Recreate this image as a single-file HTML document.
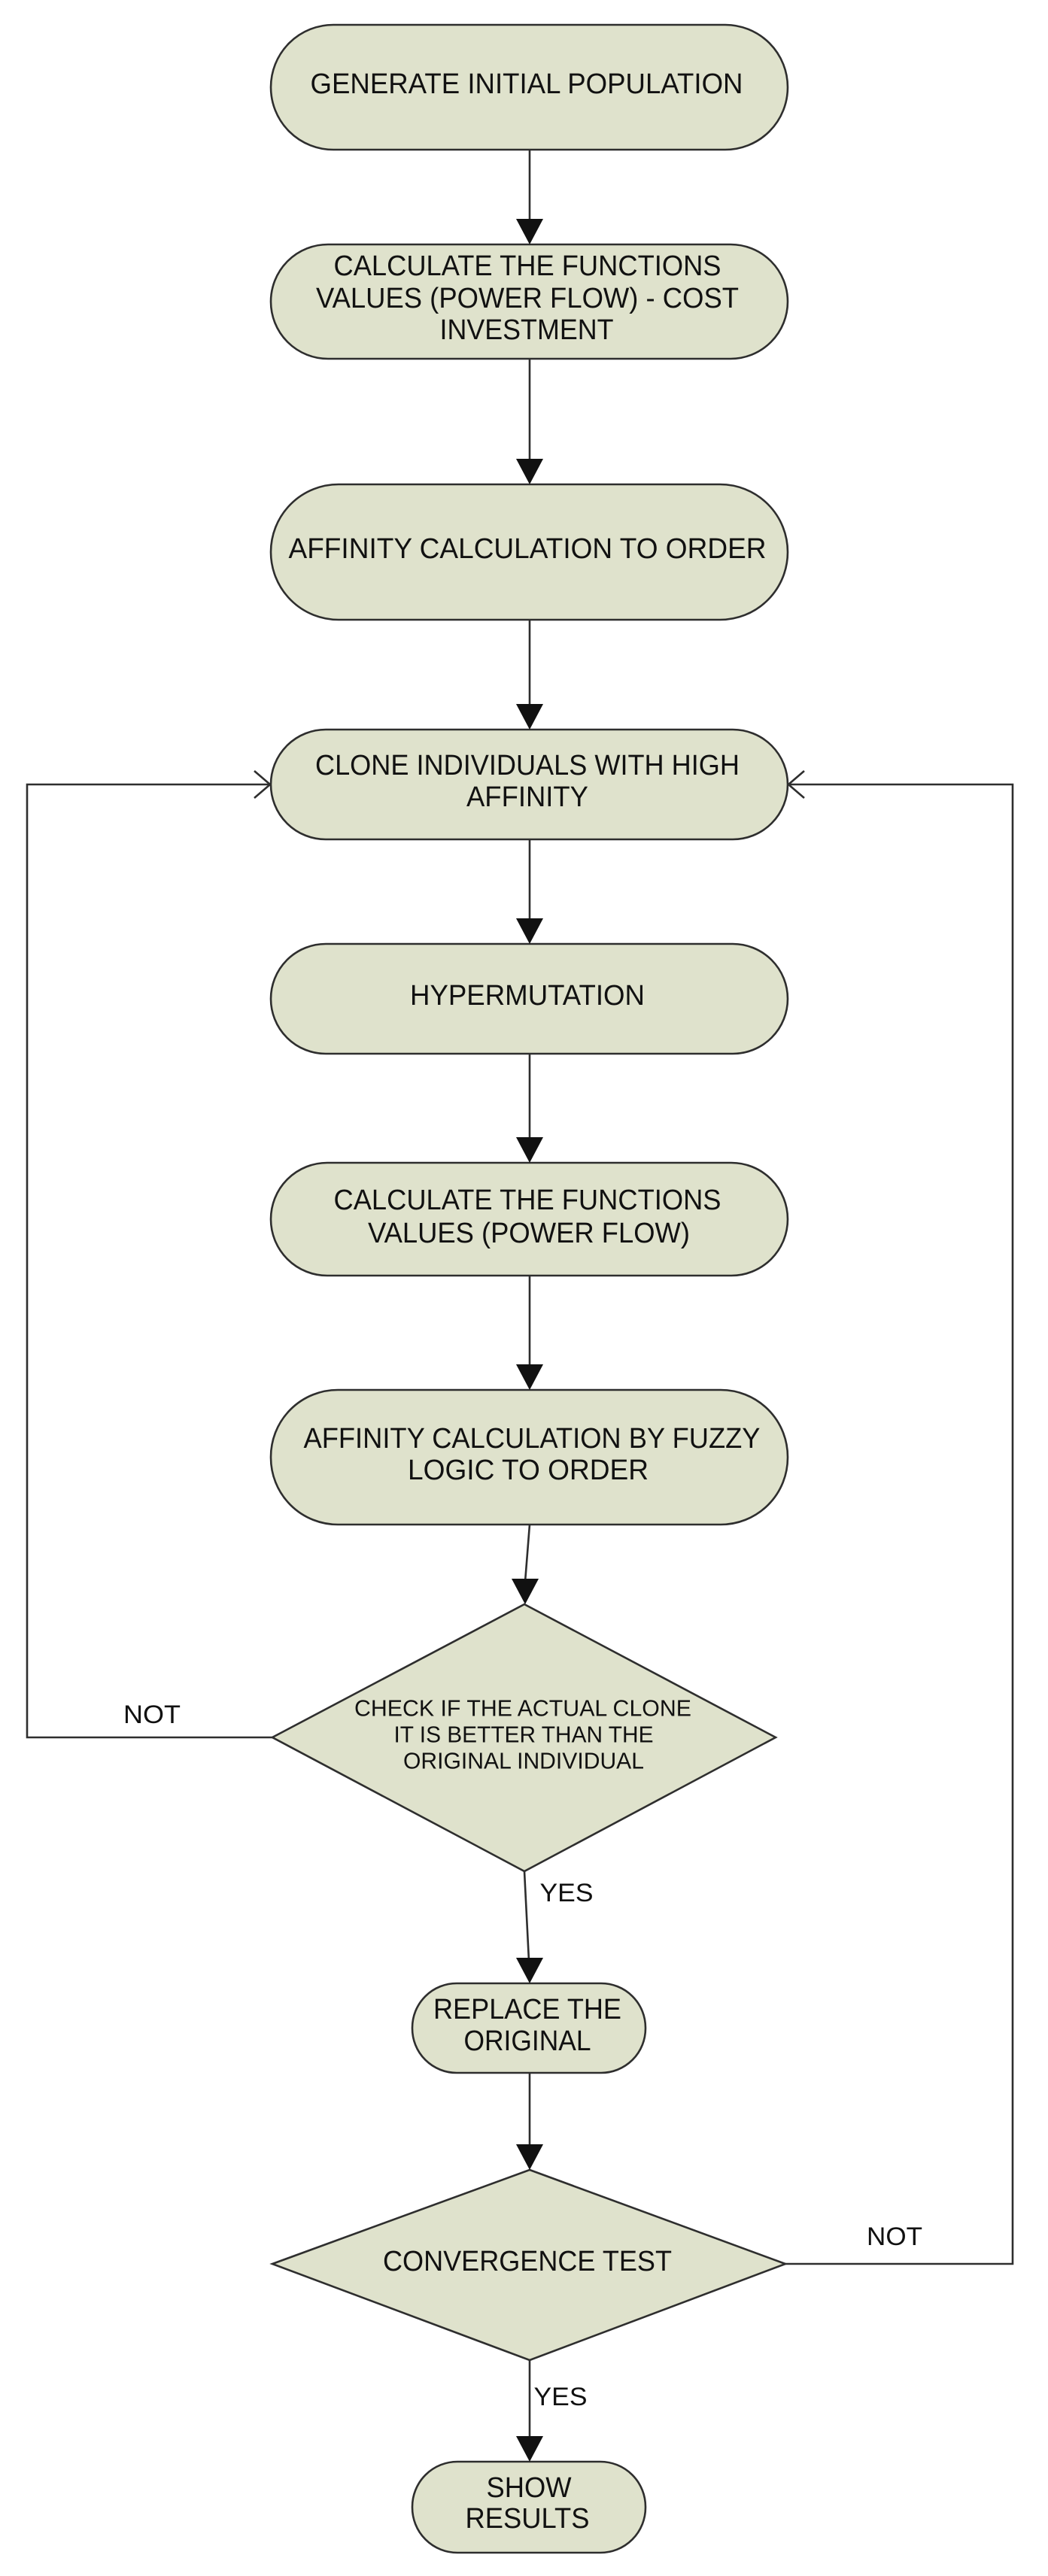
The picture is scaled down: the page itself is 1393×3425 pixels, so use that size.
<!DOCTYPE html>
<html><head><meta charset="utf-8"><style>
html,body{margin:0;padding:0;background:#fff;}
svg{display:block;}
text{font-family:"Liberation Sans",Arial,sans-serif;fill:#111;dominant-baseline:central;text-anchor:middle;}
.s{fill:#dfe2cc;stroke:#2e2e2e;stroke-width:2.6;}
.l{stroke:#2e2e2e;stroke-width:2.6;fill:none;}
</style></head><body>
<svg width="1393" height="3425" viewBox="0 0 1393 3425" xmlns="http://www.w3.org/2000/svg">
<!-- boxes -->
<rect class="s" x="360" y="33" width="687" height="166" rx="83"/>
<rect class="s" x="360" y="325" width="687" height="152" rx="76"/>
<rect class="s" x="360" y="644" width="687" height="180" rx="90"/>
<rect class="s" x="360" y="970" width="687" height="146" rx="73"/>
<rect class="s" x="360" y="1255" width="687" height="146" rx="73"/>
<rect class="s" x="360" y="1546" width="687" height="150" rx="75"/>
<rect class="s" x="360" y="1848" width="687" height="179" rx="89"/>
<polygon class="s" points="697,2133 1031,2310 697,2488 362,2310"/>
<rect class="s" x="548" y="2637" width="310" height="119" rx="59"/>
<polygon class="s" points="704,2885 1044,3010 704,3138 362,3010"/>
<rect class="s" x="548" y="3273" width="310" height="121" rx="60"/>

<g class="l">
<line x1="704" y1="199" x2="704" y2="295"/>
<line x1="704" y1="477" x2="704" y2="614"/>
<line x1="704" y1="824" x2="704" y2="940"/>
<line x1="704" y1="1116" x2="704" y2="1225"/>
<line x1="704" y1="1401" x2="704" y2="1516"/>
<line x1="704" y1="1696" x2="704" y2="1818"/>
<line x1="704" y1="2027" x2="698" y2="2103"/>
<line x1="697" y1="2488" x2="703" y2="2607"/>
<line x1="704" y1="2756" x2="704" y2="2855"/>
<line x1="704" y1="3138" x2="704" y2="3243"/>
<polyline points="362,2310 36,2310 36,1043 358,1043"/>
<polyline points="1044,3010 1346,3010 1346,1043 1049,1043"/>
<polyline points="338,1025 359,1043 338,1061"/>
<polyline points="1069,1025 1048,1043 1069,1061"/>
</g>
<g fill="#111">
<polygon points="686,291 722,291 704,325"/>
<polygon points="686,610 722,610 704,644"/>
<polygon points="686,936 722,936 704,970"/>
<polygon points="686,1221 722,1221 704,1255"/>
<polygon points="686,1512 722,1512 704,1546"/>
<polygon points="686,1814 722,1814 704,1848"/>
<polygon points="680,2099 716,2099 698,2133"/>
<polygon points="686,2603 722,2603 704,2637"/>
<polygon points="686,2851 722,2851 704,2885"/>
<polygon points="686,3239 722,3239 704,3273"/>
</g>

<g font-size="38">
<text x="700" y="112" textLength="575" lengthAdjust="spacingAndGlyphs">GENERATE INITIAL POPULATION</text>
<text x="701" y="354" textLength="515" lengthAdjust="spacingAndGlyphs">CALCULATE THE FUNCTIONS</text>
<text x="701" y="397" textLength="562" lengthAdjust="spacingAndGlyphs">VALUES (POWER FLOW) - COST</text>
<text x="700" y="439" textLength="231" lengthAdjust="spacingAndGlyphs">INVESTMENT</text>
<text x="701" y="730" textLength="635" lengthAdjust="spacingAndGlyphs">AFFINITY CALCULATION  TO ORDER</text>
<text x="701" y="1018" textLength="564" lengthAdjust="spacingAndGlyphs">CLONE INDIVIDUALS WITH HIGH</text>
<text x="701" y="1060" textLength="162" lengthAdjust="spacingAndGlyphs">AFFINITY</text>
<text x="701" y="1324" textLength="312" lengthAdjust="spacingAndGlyphs">HYPERMUTATION</text>
<text x="701" y="1596" textLength="515" lengthAdjust="spacingAndGlyphs">CALCULATE THE FUNCTIONS</text>
<text x="703" y="1640" textLength="428" lengthAdjust="spacingAndGlyphs">VALUES (POWER FLOW)</text>
<text x="707" y="1913" textLength="607" lengthAdjust="spacingAndGlyphs">AFFINITY CALCULATION BY FUZZY</text>
<text x="702" y="1955" textLength="320" lengthAdjust="spacingAndGlyphs">LOGIC  TO ORDER</text>
<text x="701" y="2672" textLength="250" lengthAdjust="spacingAndGlyphs">REPLACE THE</text>
<text x="701" y="2714" textLength="169" lengthAdjust="spacingAndGlyphs">ORIGINAL</text>
<text x="701" y="3007" textLength="384" lengthAdjust="spacingAndGlyphs">CONVERGENCE TEST</text>
<text x="703" y="3308" textLength="113" lengthAdjust="spacingAndGlyphs">SHOW</text>
<text x="701" y="3349" textLength="165" lengthAdjust="spacingAndGlyphs">RESULTS</text>
</g>
<g font-size="31">
<text x="695" y="2271" textLength="448" lengthAdjust="spacingAndGlyphs">CHECK IF THE ACTUAL CLONE</text>
<text x="696" y="2306" textLength="345" lengthAdjust="spacingAndGlyphs">IT IS BETTER THAN THE</text>
<text x="696" y="2341" textLength="320" lengthAdjust="spacingAndGlyphs">ORIGINAL INDIVIDUAL</text>
</g>
<g font-size="34">
<text x="202" y="2280" textLength="76" lengthAdjust="spacingAndGlyphs">NOT</text>
<text x="753" y="2517" textLength="71" lengthAdjust="spacingAndGlyphs">YES</text>
<text x="1189" y="2974" textLength="74" lengthAdjust="spacingAndGlyphs">NOT</text>
<text x="745" y="3187" textLength="71" lengthAdjust="spacingAndGlyphs">YES</text>
</g>
</svg>
</body></html>
